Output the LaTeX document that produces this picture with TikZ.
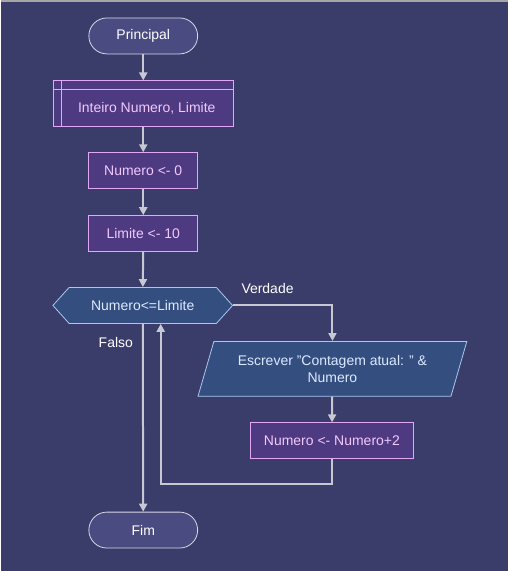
\documentclass[tikz,border=0pt]{standalone}
\usepackage{fontspec}
\setmainfont{Liberation Sans}
\usetikzlibrary{arrows.meta,shapes.geometric,shapes.symbols}
\definecolor{fundo}{HTML}{3A3C6A}
\definecolor{linha}{HTML}{C8C8D2}
\definecolor{termfill}{HTML}{4A4B80}
\definecolor{termdraw}{HTML}{D8D8E8}
\definecolor{procfill}{HTML}{4D3A80}
\definecolor{procdraw}{HTML}{E2A8F5}
\definecolor{proctext}{HTML}{F2C8FF}
\definecolor{decfill}{HTML}{344E80}
\definecolor{decdraw}{HTML}{A8C8F0}
\definecolor{dectext}{HTML}{DCEAFF}
\begin{document}
\begin{tikzpicture}[x=1pt,y=-1pt,
        font=\fontsize{14}{17}\selectfont,
        >={Triangle[width=8pt,length=8pt]},
        terminal/.style={draw=termdraw,fill=termfill,text=white,rounded corners=18pt,minimum width=109pt,minimum height=36pt,inner sep=0pt,line width=0.8pt},
        processo/.style={draw=procdraw,fill=procfill,text=proctext,minimum height=36pt,inner sep=0pt,line width=0.8pt},
        decisao/.style={draw=decdraw,fill=decfill,text=dectext,line width=0.8pt},
        seta/.style={draw=linha,line width=2pt,->},
        rotulo/.style={text=white}]
    \fill[fundo] (0,0) rectangle (508,571);
    \draw[gray!70,line width=2pt] (0,0) -- (508,0);

    \node[terminal] (principal) at (142.5,35){Principal};
    \node[processo,minimum width=181pt,minimum height=46pt] (decl) at (142.5,103){};
    \draw[procdraw,line width=0.8pt] ([yshift=-9pt]decl.north west) -- ([yshift=-9pt]decl.north east);
    \draw[procdraw,line width=0.8pt] ([xshift=9pt]decl.north west) -- ([xshift=9pt]decl.south west);
    \node[text=proctext] (decltexto) at (146,107.5){Inteiro Numero, Limite};
    \node[processo,minimum width=109pt] (num0) at (142.5,170){Numero <- 0};
    \node[processo,minimum width=109pt] (lim10) at (142.5,233){Limite <- 10};
    \node[decisao,shape=signal,signal to=west and east,signal pointer angle=96,minimum width=180pt,minimum height=36pt,inner sep=0pt] (cond) at (142,305){Numero<=Limite};
    \node[decisao,shape=trapezium,trapezium left angle=65,trapezium right angle=115,trapezium stretches=true,minimum width=270pt,minimum height=55pt,align=center,inner sep=0pt] (escrever) at (332,368.5){Escrever "Contagem atual: " \&\\Numero};
    \node[processo,minimum width=163pt] (incr) at (331.5,440.5){Numero <- Numero+2};
    \node[terminal] (fim) at (142.5,530){Fim};

    \node[rotulo] (verdade) at (267,288){Verdade};
    \node[rotulo] (falso) at (115,342){Falso};

    \path [seta] (principal) to (decl);
    \path [seta] (decl) to (num0);
    \path [seta] (num0) to (lim10);
    \path [seta] (lim10) to (cond);
    \path [seta] (cond.east) -| (escrever.north);
    \path [seta] (escrever) to (incr);
    \coordinate (volta) at (160,484);
    \path [seta] (incr.south) |- (volta) to (cond.south -| volta);
    \path [seta] (cond.south) to (fim);
\end{tikzpicture}
\end{document}
